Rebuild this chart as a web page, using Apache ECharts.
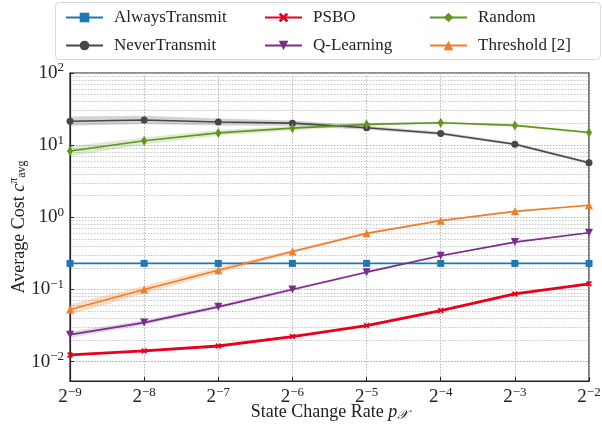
<!DOCTYPE html>
<html><head><meta charset="utf-8">
<script src="https://cdn.jsdelivr.net/npm/echarts@6/dist/echarts.min.js"></script>
<style>html,body{margin:0;padding:0;background:#fff}#c{width:602px;height:430px}</style>
</head><body><div id="c"></div>
<script>
// ---------- data ----------
var xExponents = [-9, -8, -7, -6, -5, -4, -3, -2];
var alwaysTransmit = [0.23, 0.23, 0.23, 0.23, 0.23, 0.23, 0.23, 0.23];
var neverTransmit  = [21.5, 22.3, 20.9, 20.2, 17.4, 14.5, 10.3, 5.7];
var neverLo        = [18.6, 19.6, 18.8, 18.4, 16.3, 13.8, 9.9, 5.45];
var neverHi        = [25.0, 25.5, 23.4, 22.0, 18.6, 15.3, 10.8, 6.0];
var psbo           = [0.0124, 0.0141, 0.0165, 0.0223, 0.0316, 0.0511, 0.087, 0.120];
var psboLo         = [0.0119, 0.0136, 0.0160, 0.0216, 0.0306, 0.0496, 0.0845, 0.1165];
var psboHi         = [0.0129, 0.0146, 0.0170, 0.0230, 0.0326, 0.0526, 0.0895, 0.1235];
var qLearning      = [0.0237, 0.0348, 0.0575, 0.100, 0.174, 0.294, 0.454, 0.613];
var qLo            = [0.0215, 0.0322, 0.0545, 0.095, 0.168, 0.286, 0.443, 0.600];
var qHi            = [0.0262, 0.0375, 0.0610, 0.105, 0.180, 0.302, 0.465, 0.626];
var randomPol      = [8.3, 11.5, 14.8, 17.2, 19.4, 20.4, 18.8, 15.0];
var randomLo       = [7.0, 10.2, 13.5, 16.0, 18.4, 19.6, 18.1, 14.4];
var randomHi       = [9.7, 12.8, 16.2, 18.5, 20.4, 21.2, 19.5, 15.6];
var threshold      = [0.0527, 0.100, 0.185, 0.337, 0.600, 0.900, 1.21, 1.47];
var thrLo          = [0.0450, 0.088, 0.168, 0.320, 0.580, 0.880, 1.19, 1.45];
var thrHi          = [0.0620, 0.113, 0.203, 0.355, 0.620, 0.920, 1.23, 1.49];
var legendCols = [["AlwaysTransmit", "NeverTransmit"], ["PSBO", "Q-Learning"], ["Random", "Threshold [2]"]];

// ---------- helpers ----------
var FONT = "Liberation Serif";
var minusSign = "\u2212";
var xCats = xExponents.map(function (e) { return String(e); });
var minorVals = [];
for (var k = -3; k <= 1; k++) { for (var m = 2; m <= 9; m++) { var v = m * Math.pow(10, k); if (v > 0.0054 && v < 100) minorVals.push({ yAxis: v }); } }

function band(lo, hi, color) {
  var d = lo.map(function (v, i) { return [i, lo[i], hi[i]]; });
  return {
    type: 'custom', silent: true, z: 1, data: d,
    renderItem: function (params, api) {
      if (params.dataIndex !== 0) return null;
      var pts = [];
      for (var i = 0; i < lo.length; i++) pts.push(api.coord([i, hi[i]]));
      for (var j = lo.length - 1; j >= 0; j--) pts.push(api.coord([j, lo[j]]));
      return { type: 'polygon', shape: { points: pts }, style: { fill: color } };
    }
  };
}

function line(name, data, color, symbol, size, width, extra) {
  var s = {
    name: name, type: 'line', data: data, z: 5,
    symbol: symbol, symbolSize: size, showSymbol: true,
    lineStyle: { color: color, width: width },
    itemStyle: { color: color, borderWidth: 0 },
    emphasis: { disabled: true }, animation: false
  };
  if (extra) for (var key in extra) s[key] = extra[key];
  return s;
}

var C = {
  blue: '#1f77b4', black: '#474747', red: '#e8001c', purple: '#7b2d8c', green: '#5f961e', orange: '#f07d2a'
};
var xSym = 'path://M2,0L5,3L8,0L10,2L7,5L10,8L8,10L5,7L2,10L0,8L3,5L0,2Z';

var series = [
  band(neverLo, neverHi, 'rgba(80,80,80,0.25)'),
  band(randomLo, randomHi, 'rgba(110,160,50,0.22)'),
  band(thrLo, thrHi, 'rgba(240,125,42,0.25)'),
  band(qLo, qHi, 'rgba(123,45,140,0.2)'),
  band(psboLo, psboHi, 'rgba(232,0,28,0.2)'),
  line('AlwaysTransmit', alwaysTransmit, C.blue, 'rect', 7, 1.6, {
    markLine: { silent: true, symbol: 'none', label: { show: false }, animation: false, z: 0,
      lineStyle: { color: '#b8b8b8', type: [1.5, 1.5], width: 0.8 }, data: minorVals }
  }),
  line('NeverTransmit', neverTransmit, C.black, 'circle', 7, 1.6),
  line('PSBO', psbo, C.red, xSym, 6, 2.8),
  line('Q-Learning', qLearning, C.purple, 'path://M0,0L10,0L5,9Z', 8, 1.6),
  line('Random', randomPol, C.green, 'diamond', [6, 10], 1.6),
  line('Threshold [2]', threshold, C.orange, 'triangle', 8, 1.6)
];

var legendX = [60, 259, 424];
var legends = legendCols.map(function (names, i) {
  return {
    orient: 'vertical', left: legendX[i], top: 4, itemWidth: 37, itemHeight: 12, itemGap: 11,
    data: names, selectedMode: false,
    textStyle: { fontFamily: FONT, fontSize: 17, color: '#222', padding: [0, 0, 0, 6] }
  };
});

var chart = echarts.init(document.getElementById('c'), null, { renderer: 'canvas' });
chart.setOption({
  animation: false,
  backgroundColor: '#fff',
  graphic: [{ type: 'rect', left: 55, top: 2, shape: { width: 545, height: 57, r: 4 },
    style: { fill: '#fff', stroke: '#d9d9d9', lineWidth: 1 }, z: -1 }],
  legend: legends,
  grid: { left: 70, right: 13, top: 73, bottom: 49, show: true, outerBoundsMode: 'none', containLabel: false,
    borderColor: '#222', borderWidth: 1.2, backgroundColor: 'transparent' },
  xAxis: {
    type: 'category', data: xCats, boundaryGap: false,
    axisLine: { lineStyle: { color: '#222', width: 1.2 } },
    axisTick: { show: true, inside: true, length: 4, lineStyle: { color: '#222' } },
    splitLine: { show: true, lineStyle: { color: '#b0b0b0', type: [1.5, 1.5], width: 0.9 } },
    axisLabel: {
      margin: 5, color: '#222',
      formatter: function (v) { return '{b|2}{s|' + v.replace('-', minusSign) + '}'; },
      rich: {
        b: { fontFamily: FONT, fontSize: 19, color: '#222' },
        s: { fontFamily: FONT, fontSize: 13, color: '#222', padding: [0, 0, 10, 0] }
      }
    },
    name: '{n|State Change Rate }{i|p}{x|𝒳}', nameLocation: 'middle', nameGap: 22, nameMoveOverlap: false,
    nameTextStyle: {
      rich: {
        n: { fontFamily: FONT, fontSize: 18, color: '#222' },
        i: { fontFamily: FONT, fontSize: 18, fontStyle: 'italic', color: '#222' },
        x: { fontFamily: FONT, fontSize: 13, fontStyle: 'italic', color: '#222', padding: [6, 0, 0, 0] }
      }
    }
  },
  yAxis: {
    type: 'log', logBase: 10, min: 0.0054, max: 100,
    axisLine: { show: true, lineStyle: { color: '#222', width: 1.2 } },
    axisTick: { show: true, inside: true, length: 4, lineStyle: { color: '#222' } },
    splitLine: { show: true, lineStyle: { color: '#b0b0b0', type: [1.5, 1.5], width: 0.9 } },
    axisLabel: {
      showMinLabel: false, margin: 6, color: '#222',
      formatter: function (v) {
        var e = Math.round(Math.log10(v));
        return '{b|10}{s|' + String(e).replace('-', minusSign) + '}';
      },
      rich: {
        b: { fontFamily: FONT, fontSize: 19, color: '#222' },
        s: { fontFamily: FONT, fontSize: 13, color: '#222', padding: [0, 0, 10, 0] }
      }
    },
    name: '{n|Average Cost }{c|c}{p|π}{a|avg}', nameLocation: 'middle', nameGap: 40, nameRotate: 90, nameMoveOverlap: false,
    nameTextStyle: {
      rich: {
        n: { fontFamily: FONT, fontSize: 18, color: '#222' },
        c: { fontFamily: FONT, fontSize: 18, fontStyle: 'italic', color: '#222' },
        p: { fontFamily: FONT, fontSize: 12, fontStyle: 'italic', color: '#222', padding: [0, 0, 10, 0] },
        a: { fontFamily: FONT, fontSize: 12, color: '#222', padding: [6, 0, 0, 0] }
      }
    }
  },
  series: series
});
</script></body></html>
